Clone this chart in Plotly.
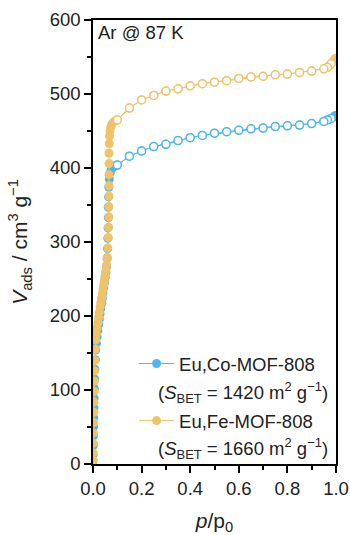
import plotly.graph_objects as go

# ---------------- data ----------------
co_ads_p = [0.0003, 0.0006, 0.001, 0.0015, 0.002, 0.0028, 0.0036, 0.0045, 0.0055, 0.0066,
            0.008, 0.0095, 0.011, 0.014, 0.017, 0.020, 0.023, 0.026, 0.029, 0.032,
            0.035, 0.038, 0.041, 0.044, 0.047, 0.050, 0.053, 0.056, 0.058, 0.060,
            0.061, 0.062, 0.063, 0.063, 0.064, 0.065, 0.067, 0.070, 0.075, 0.082, 0.090,
            0.10, 0.15, 0.20, 0.25, 0.30, 0.35, 0.40, 0.45, 0.50, 0.55, 0.60, 0.65,
            0.70, 0.75, 0.80, 0.85, 0.90, 0.95, 0.975, 0.99, 0.997]
co_ads_v = [4, 13, 25, 38, 50, 63, 76, 89, 102, 115,
            128, 141, 154, 163, 172, 180, 188, 196, 203, 210,
            217, 224, 231, 238, 245, 252, 259, 267, 278, 291,
            305, 319, 333, 347, 361, 374, 385, 393, 398, 401, 403,
            404, 416, 423, 429, 432, 437, 441, 444, 447, 449, 451, 453,
            454, 456, 457, 458, 460, 463, 466, 469, 471]

co_des_p = [0.98, 0.965, 0.95, 0.90, 0.85, 0.80, 0.75, 0.70, 0.65, 0.60, 0.55,
            0.50, 0.45, 0.40, 0.35, 0.30, 0.25, 0.20, 0.15, 0.10]
co_des_v = [467, 465, 463, 460, 458, 457, 456, 454, 453, 451, 449,
            447, 444, 441, 437, 432, 429, 423, 416, 404]

fe_ads_p = [0.0003, 0.0006, 0.001, 0.0015, 0.002, 0.0028, 0.0036, 0.0045, 0.0055, 0.0066,
            0.008, 0.0095, 0.011, 0.014, 0.017, 0.020, 0.023, 0.026, 0.029, 0.032,
            0.035, 0.038, 0.041, 0.044, 0.047, 0.050, 0.053, 0.056, 0.059, 0.061,
            0.063, 0.064, 0.065, 0.065, 0.066, 0.066, 0.066, 0.066, 0.066, 0.067,
            0.068, 0.070, 0.073, 0.077, 0.082, 0.088, 0.095,
            0.10, 0.15, 0.20, 0.25, 0.30, 0.35, 0.40, 0.45, 0.50, 0.55, 0.60, 0.65,
            0.70, 0.75, 0.80, 0.85, 0.90, 0.95, 0.975, 0.99, 0.997]
fe_ads_v = [5, 15, 28, 42, 56, 70, 84, 98, 112, 126,
            140, 155, 168, 176, 184, 191, 198, 205, 212, 218,
            224, 230, 236, 242, 248, 254, 261, 269, 279, 292,
            306, 320, 334, 348, 362, 376, 391, 406, 420, 433,
            443, 450, 455, 459, 461, 463, 464,
            465, 481, 492, 498, 504, 507, 511, 514, 516, 518, 521, 523,
            524, 526, 527, 529, 531, 534, 539, 545, 548]

fe_des_p = [0.98, 0.965, 0.95, 0.90, 0.85, 0.80, 0.75, 0.70, 0.65, 0.60, 0.55,
            0.50, 0.45, 0.40, 0.35, 0.30, 0.25, 0.20, 0.15, 0.10]
fe_des_v = [541, 536, 534, 531, 529, 527, 526, 524, 523, 521, 518,
            516, 514, 511, 507, 504, 498, 492, 481, 465]

names = ["Eu,Co-MOF-808", "Eu,Fe-MOF-808"]
sbet = ["1420", "1660"]
colors = ["#4DB6F2", "#EFC36A"]

x_ticks = [0.0, 0.2, 0.4, 0.6, 0.8, 1.0]
x_ticklabels = ["0.0", "0.2", "0.4", "0.6", "0.8", "1.0"]
y_ticks = [0, 100, 200, 300, 400, 500, 600]

FONT = "Liberation Sans, Arial, sans-serif"

fig = go.Figure()
series = [(co_ads_p, co_ads_v, co_des_p, co_des_v), (fe_ads_p, fe_ads_v, fe_des_p, fe_des_v)]
for i, (ap, av, dp, dv) in enumerate(series):
    fig.add_trace(go.Scatter(
        x=ap, y=av, mode="lines+markers", name=names[i], legendgroup=f"g{i}",
        line=dict(color=colors[i], width=1),
        marker=dict(color=colors[i], size=9, line=dict(width=0)),
    ))
    fig.add_trace(go.Scatter(
        x=dp, y=dv, mode="lines+markers", showlegend=False, legendgroup=f"g{i}",
        line=dict(color=colors[i], width=1),
        marker=dict(color="white", size=8, line=dict(color=colors[i], width=1.5)),
    ))

for i in range(2):
    fig.add_annotation(
        xref="paper", yref="paper", x=0.977, y=[0.16, 0.036][i],
        xanchor="right", yanchor="middle", showarrow=False,
        text=f"(<i>S</i><sub>BET</sub> = {sbet[i]} m<sup>2</sup> g<sup>−1</sup>)",
        font=dict(family=FONT, size=18.5, color="#222"),
    )

fig.add_annotation(
    xref="paper", yref="paper", x=0.012, y=1.0, xanchor="left", yanchor="top",
    showarrow=False, text="Ar @ 87 K", font=dict(family=FONT, size=18.5, color="#222"),
)

axis_common = dict(
    showline=True, linecolor="black", linewidth=1.5, mirror=True,
    ticks="outside", ticklen=7, tickwidth=1.5, tickcolor="black",
    showgrid=False, zeroline=False, automargin=False,
    tickfont=dict(family=FONT, size=18.5, color="#222"),
)

fig.update_xaxes(
    range=[0, 1.0], tickvals=x_ticks, ticktext=x_ticklabels,
    minor=dict(ticks="outside", ticklen=4, tickwidth=1.5, tickcolor="black", dtick=0.1, tick0=0),
    title=dict(text="<i>p</i>/p<sub>0</sub>", font=dict(family=FONT, size=21, color="#222"), standoff=16),
    **axis_common,
)
fig.update_yaxes(
    range=[0, 600], tickvals=y_ticks,
    minor=dict(ticks="outside", ticklen=4, tickwidth=1.5, tickcolor="black", dtick=50, tick0=0),
    title=dict(text="<i>V</i><sub>ads</sub> / cm<sup>3</sup> g<sup>−1</sup>",
               font=dict(family=FONT, size=21, color="#222"), standoff=16),
    **axis_common,
)

fig.update_layout(
    width=350, height=535,
    margin=dict(l=93, r=14, t=20, b=71),
    paper_bgcolor="white", plot_bgcolor="white",
    showlegend=True,
    legend=dict(
        x=0.169, y=0.268, xanchor="left", yanchor="top",
        bgcolor="rgba(0,0,0,0)", tracegroupgap=30, itemwidth=35,
        font=dict(family=FONT, size=18.5, color="#222"),
    ),
)

fig.write_html(
    "out.html",
    config={"displayModeBar": False},
    post_script="document.body.style.margin='0px';document.body.style.overflow='hidden';",
)
